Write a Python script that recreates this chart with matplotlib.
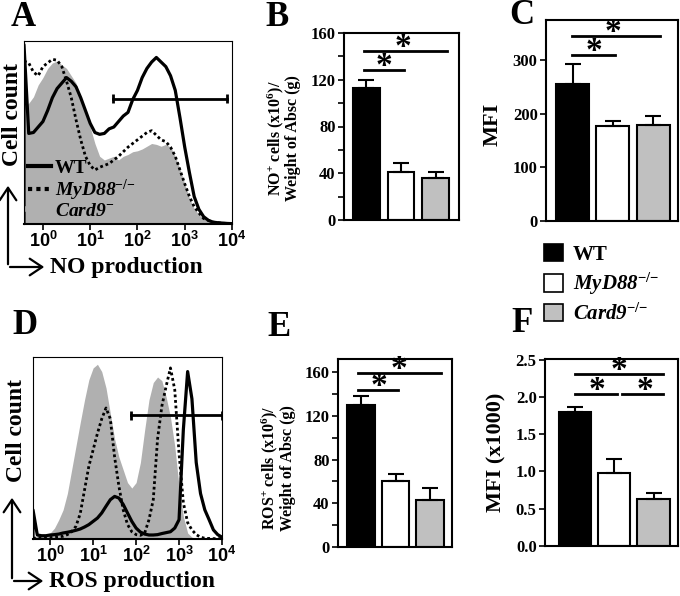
# NO / ROS production: flow histograms and bar summaries

import matplotlib
matplotlib.use("Agg")
import matplotlib.pyplot as plt
import numpy as np
from matplotlib.lines import Line2D
from matplotlib.patches import Patch, FancyArrowPatch
from matplotlib.ticker import LogLocator, NullFormatter

plt.rcParams["font.family"] = ["Liberation Serif", "DejaVu Serif"]
plt.rcParams["font.weight"] = "bold"
plt.rcParams["axes.labelweight"] = "bold"
plt.rcParams["mathtext.fontset"] = "custom"
plt.rcParams["mathtext.rm"] = "Liberation Serif:bold"
plt.rcParams["mathtext.it"] = "Liberation Serif:italic:bold"
plt.rcParams["mathtext.sf"] = "Liberation Sans:bold"

# histogram bins (log10 of fluorescence)
log_pos = [-0.4, -0.3, -0.2, -0.1, 0.0, 0.1, 0.2, 0.3, 0.4, 0.5,
           0.6, 0.7, 0.8, 0.9, 1.0, 1.1, 1.2, 1.3, 1.4, 1.5,
           1.6, 1.7, 1.8, 1.9, 2.0, 2.1, 2.2, 2.3, 2.4, 2.5,
           2.6, 2.7, 2.8, 2.9, 3.0, 3.1, 3.2, 3.3, 3.4, 3.5,
           3.6, 3.7, 3.8, 3.9, 4.0]

# cell counts (% of max) - NO production
no_wt = [98, 49.5, 50, 53, 56, 62, 69, 74, 77, 80,
         78, 75, 69, 62, 55, 50, 49, 49.5, 52, 53,
         56, 59, 61, 68, 73, 80, 85, 88.5, 91, 88.5,
         86, 81, 73, 58, 42, 28, 15, 8, 4, 2,
         1, 0.7, 0.5, 0.3, 0.2]
no_myd88 = [89, 88, 83, 81, 86, 88, 90, 89.5, 86, 78,
            69, 57, 46, 37, 32, 29.5, 31, 32, 33, 35,
            37, 39.5, 42, 44, 46, 48, 50, 51, 48.5, 46,
            45, 42, 37, 29.5, 22, 15, 9.5, 6, 3, 2,
            1, 0.7, 0.4, 0.3, 0.2]
no_card9 = [64, 66, 69.5, 76, 80, 85, 88, 89, 87, 85,
            81, 77, 68, 60, 53, 44, 37, 35, 36, 37,
            35, 37, 38, 39.5, 40, 41, 42.5, 44, 43.5, 42.5,
            43.5, 42, 37, 30, 22, 14, 8.5, 5, 3, 1.5,
            0.9, 0.5, 0.3, 0.2, 0.1]

# cell counts (% of max) - ROS production
ros_wt = [16, 2.2, 1.8, 1.8, 2.2, 2.4, 2.7, 3.3, 3.7, 4.2,
          4.8, 5.5, 6.6, 7.9, 9.7, 11.5, 14.3, 18, 21.6, 23.4,
          22.5, 19, 14.3, 9.7, 6, 3.8, 2.7, 2.2, 2.2, 2.4,
          3.0, 3.5, 4, 6, 10.6, 60, 92, 77, 42, 25,
          16, 10.6, 5, 2.4, 1]
ros_myd88 = [0.5, 0.5, 0.6, 0.7, 0.8, 1, 1.2, 1.5, 2.4, 4,
             7, 14, 27, 40, 49, 58, 66, 72, 66, 45,
             29, 16, 8, 4, 2.4, 2, 3.3, 10.6, 21.6, 55,
             73, 84, 94, 82, 47, 20, 9, 5, 2.4, 1,
             0.4, 0.3, 0.2, 0.2, 0.2]
ros_card9 = [1, 1.5, 2, 2.5, 3.3, 6, 10.6, 16, 25, 38,
             51, 64, 76.5, 87.5, 94, 96, 92, 83, 69, 55,
             45, 38, 31, 28, 31, 42, 60, 76.5, 86, 89,
             87, 78, 67, 51, 29, 12.5, 3.3, 1, 0.4, 0.2,
             0.2, 0.2, 0.2, 0.2, 0.2]

# gates (log10 start, log10 end, height)
no_gate = [1.49, 3.89, 68.5]
ros_gate = [1.89, 3.99, 68]

# bar summaries: WT, MyD88-/-, Card9-/-
groups = ["WT", "MyD88$^{{-}/{-}}$", "Card9$^{{-}/{-}}$"]
no_cells = [113, 41, 36]
no_cells_err = [7, 8, 5]
no_mfi = [254, 177, 179]
no_mfi_err = [39, 9, 16]
ros_cells = [130, 60, 43]
ros_cells_err = [8, 7, 11]
ros_mfi = [1.80, 0.98, 0.63]
ros_mfi_err = [0.07, 0.19, 0.08]

bar_colors = ["black", "white", "#c0c0c0"]
gray_fill = "#b0b0b0"

fig = plt.figure(figsize=(6.8, 5.96), dpi=100)
W, H = 680, 596


def add_axes_px(x0, y0, x1, y1):
    """Axes from image pixel box (top-left origin)."""
    return fig.add_axes([x0 / W, (H - y1) / H, (x1 - x0) / W, (y1 - y0) / H])


def draw_histogram(ax, wt, myd88, card9, gate):
    x = 10 ** np.array(log_pos)
    ax.fill_between(x, 0, card9, color=gray_fill, lw=0)
    ax.plot(x, myd88, color="black", lw=2, ls=(0, (1, 1)))
    ax.plot(np.r_[x[0], x], np.r_[0, wt], color="black", lw=2.3)
    g0, g1, gy = 10 ** gate[0], 10 ** gate[1], gate[2]
    ax.plot([g0, g1], [gy, gy], color="black", lw=2)
    ax.vlines([g0, g1], gy - 2.5, gy + 2.5, color="black", lw=2)
    ax.set_xscale("log")
    ax.set_xlim(x[0], x[-1])
    ax.set_ylim(0, 100)
    ax.set_yticks([])
    ax.set_xticks([1, 10, 100, 1000, 10000])
    ax.set_xticklabels([r"$\mathsf{10^{%d}}$" % i for i in range(5)], fontsize=13)
    ax.xaxis.set_minor_locator(LogLocator(subs=np.arange(2, 10)))
    ax.xaxis.set_minor_formatter(NullFormatter())
    ax.tick_params(axis="x", which="major", length=4, width=1.2, pad=1)
    ax.tick_params(axis="x", which="minor", length=2.5, width=0.8)
    for side in ["top", "right", "left"]:
        ax.spines[side].set_linewidth(0.8)
    ax.spines["bottom"].set_linewidth(1.5)


def draw_bars(ax, values, errors, ymax, ticks, ticklabels, xlim, width):
    pos = np.arange(len(values))
    ax.bar(pos, values, width, color=bar_colors, edgecolor="black", lw=1.5,
           yerr=[[0] * len(errors), errors], capsize=6,
           error_kw=dict(ecolor="black", elinewidth=1.5, capthick=1.5))
    ax.set_xlim(*xlim)
    ax.set_ylim(0, ymax)
    ax.set_xticks([])
    ax.set_yticks(ticks)
    ax.set_yticklabels(ticklabels, fontsize=12)
    ax.tick_params(axis="y", direction="out", length=4, width=1.2, pad=2)
    for sp in ax.spines.values():
        sp.set_linewidth(1.5)


def sig(ax, x0, x1, y, sx):
    ax.plot([x0, x1], [y, y], color="black", lw=2, clip_on=False)
    ax.annotate("*", xy=(sx, y), xytext=(0, 2.5), textcoords="offset points",
                fontsize=24, ha="center", va="center")


# ---- A: NO histogram
axA = add_axes_px(24, 41, 232, 224)
draw_histogram(axA, no_wt, no_myd88, no_card9, no_gate)
handles = [Line2D([], [], color="black", lw=3),
           Line2D([], [], color="black", lw=3, ls=(0, (1, 1))),
           Line2D([], [], color=gray_fill, lw=4)]
leg = axA.legend(handles, ["WT", "MyD88$^{{-}/{-}}$", "Card9$^{-}$"], loc="lower left",
                 frameon=False, fontsize=14, handlelength=1.2, handletextpad=0.2,
                 labelspacing=0.0, borderaxespad=0.1, borderpad=0.1)
for t in leg.get_texts()[1:]:
    t.set_fontstyle("italic")

# ---- D: ROS histogram
axD = add_axes_px(33, 357, 222, 539)
draw_histogram(axD, ros_wt, ros_myd88, ros_card9, ros_gate)

# arrow axis labels
for cx, cy, top, right, ylab_y, label in [(8, 267, 183, 47, 115, "NO production"),
                                          (12, 581, 495, 46, 431, "ROS production")]:
    arrow = dict(arrowstyle="->, head_length=0.45, head_width=0.3", lw=1.6,
                 color="black", mutation_scale=20)
    fig.add_artist(FancyArrowPatch((cx, H - cy), (cx, H - top), transform=None, **arrow))
    fig.add_artist(FancyArrowPatch((cx - 0.8, H - cy), (right, H - cy),
                                   transform=None, **arrow))
    fig.text((right + 3) / W, (H - cy) / H, label, fontsize=17, va="center", ha="left")
    fig.text((cx + 5) / W, (H - ylab_y) / H, "Cell count", fontsize=17,
             rotation=90, va="center", ha="center")

# ---- B: NO+ cells
axB = add_axes_px(344, 33, 459, 220)
draw_bars(axB, no_cells, no_cells_err, 160, np.arange(0, 161, 20),
          ["0", "", "40", "", "80", "", "120", "", "160"], (-0.65, 2.68), 0.78)
axB.set_ylabel("NO$^{+}$ cells (x10$^{6}$)/\nWeight of Absc (g)", fontsize=11.5,
               linespacing=0.95)
axB.yaxis.set_label_coords(-0.37, 0.44)
sig(axB, -0.07, 1.09, 128, 0.5)
sig(axB, -0.07, 2.33, 145, 1.06)

# ---- C: NO MFI
axC = add_axes_px(546, 20, 678, 221)
draw_bars(axC, no_mfi, no_mfi_err, 374, [0, 100, 200, 300],
          ["0", "100", "200", "300"], (-0.66, 2.62), 0.82)
axC.set_ylabel("MFI", fontsize=16)
axC.yaxis.set_label_coords(-0.33, 0.48)
sig(axC, -0.01, 1.05, 309, 0.53)
sig(axC, -0.01, 2.17, 345, 1.0)

# ---- E: ROS+ cells
axE = add_axes_px(338, 359, 452, 547)
draw_bars(axE, ros_cells, ros_cells_err, 172, np.arange(0, 161, 20),
          ["0", "", "40", "", "80", "", "120", "", "160"], (-0.67, 2.64), 0.8)
axE.set_ylabel("ROS$^{+}$ cells (x10$^{6}$)/\nWeight of Absc (g)", fontsize=11.5,
               linespacing=0.95)
axE.yaxis.set_label_coords(-0.37, 0.42)
sig(axE, -0.09, 1.07, 143.5, 0.52)
sig(axE, -0.09, 2.32, 159, 1.1)

# ---- F: ROS MFI
axF = add_axes_px(545, 359, 678, 546)
draw_bars(axF, ros_mfi, ros_mfi_err, 2.51, [0, 0.5, 1.0, 1.5, 2.0, 2.5],
          ["0.0", "0.5", "1.0", "1.5", "2.0", "2.5"], (-0.76, 2.62), 0.82)
axF.set_ylabel("MFI (x1000)", fontsize=16)
axF.yaxis.set_label_coords(-0.29, 0.5)
sig(axF, 0.0, 2.24, 2.31, 1.12)
sig(axF, 0.0, 1.07, 2.04, 0.56)
sig(axF, 1.2, 2.24, 2.04, 1.78)

# ---- shared legend for bar panels
leg2 = fig.legend([Patch(facecolor=c, edgecolor="black", lw=1.2) for c in bar_colors],
                  groups, loc="upper left",
                  bbox_to_anchor=(544 / W, (H - 244) / H), frameon=False, fontsize=15,
                  handlelength=0.9, handleheight=0.9, handletextpad=0.5,
                  labelspacing=0.3, borderpad=0, borderaxespad=0)
for t in leg2.get_texts()[1:]:
    t.set_fontstyle("italic")

# ---- panel letters
for letter, x, y in [("A", 23, 18), ("B", 277, 17), ("C", 522, 16),
                     ("D", 25, 326), ("E", 279, 328), ("F", 522, 324)]:
    fig.text(x / W, (H - y) / H, letter, fontsize=25, ha="center", va="center")

fig.savefig("out.png", dpi=100)
